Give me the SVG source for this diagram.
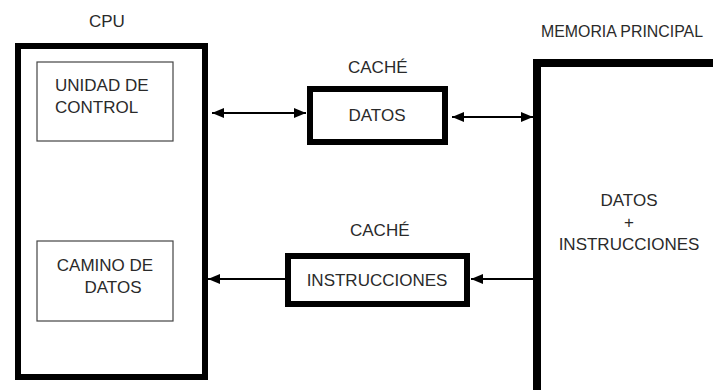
<svg xmlns="http://www.w3.org/2000/svg" width="713" height="390" viewBox="0 0 713 390">
<defs>
<style>
text{font-family:"Liberation Sans",Arial,sans-serif;font-size:17px;fill:#2a2a2a}
.thick{fill:#fff;stroke:#000;stroke-width:6}
.thin{fill:#fff;stroke:#444;stroke-width:1.2}
.conn{stroke:#000;stroke-width:2;fill:none}
</style>
<marker id="ah" markerUnits="userSpaceOnUse" markerWidth="12" markerHeight="10" refX="12" refY="5" orient="auto-start-reverse">
<path d="M0,0 L12,5 L0,10 Z" fill="#000"/>
</marker>
</defs>
<rect width="713" height="390" fill="#fff"/>
<g id="cpu">
<text x="89" y="27">CPU</text>
<rect class="thick" x="18" y="46" width="187" height="331"/>
</g>
<g id="unidad-control">
<rect class="thin" x="37" y="62" width="136" height="79"/>
<text x="55" y="91">UNIDAD DE</text>
<text x="55" y="113">CONTROL</text>
</g>
<g id="camino-datos">
<rect class="thin" x="37" y="241" width="136" height="80"/>
<text x="105" y="271" text-anchor="middle">CAMINO DE</text>
<text x="113" y="293" text-anchor="middle">DATOS</text>
</g>
<g id="cache-datos">
<text x="348" y="73">CACHÉ</text>
<rect class="thick" x="310" y="89" width="135" height="53"/>
<text x="377" y="121" text-anchor="middle">DATOS</text>
</g>
<g id="cache-instrucciones">
<text x="350" y="236">CACHÉ</text>
<rect class="thick" x="288" y="256" width="179" height="48"/>
<text x="377" y="286" text-anchor="middle">INSTRUCCIONES</text>
</g>
<g id="memoria">
<text x="541" y="37" textLength="162" lengthAdjust="spacingAndGlyphs">MEMORIA PRINCIPAL</text>
<rect fill="#fff" stroke="#000" stroke-width="8" x="537" y="63" width="220" height="360"/>
<text x="629" y="206" text-anchor="middle">DATOS</text>
<text x="629" y="228" text-anchor="middle">+</text>
<text x="629" y="250" text-anchor="middle">INSTRUCCIONES</text>
</g>
<g id="connectors">
<line class="conn" x1="212" y1="113" x2="306" y2="113" marker-start="url(#ah)" marker-end="url(#ah)"/>
<line class="conn" x1="452" y1="117" x2="533" y2="117" marker-start="url(#ah)" marker-end="url(#ah)"/>
<line class="conn" x1="533" y1="279" x2="471" y2="279" marker-end="url(#ah)"/>
<line class="conn" x1="285" y1="279" x2="208" y2="279" marker-end="url(#ah)"/>
</g>
</svg>
